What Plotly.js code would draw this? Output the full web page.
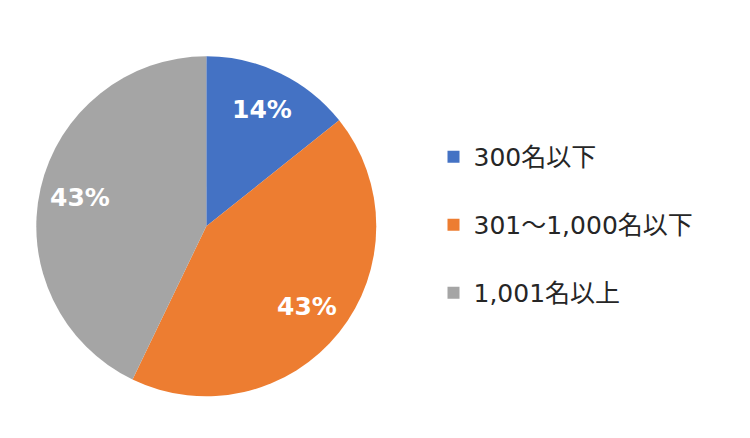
<!DOCTYPE html>
<html>
<head>
<meta charset="utf-8">
<script src="https://cdn.plot.ly/plotly-3.0.1.min.js"></script>
<style>html,body{margin:0;padding:0;background:#fff}</style>
</head>
<body>
<div id="chart" style="width:750px;height:438px"></div>
<script>
// company size breakdown
var categories = ["300名以下", "301～1,000名以下", "1,001名以上"];
var counts = [1, 3, 3];
var sliceColors = ["#4472C4", "#ED7D31", "#A5A5A5"];

var W = 750, H = 438;
var pieDomain = {x: [0.0484, 0.5017], y: [0.0952, 0.8715]};

// extra blank line so legend entries sit further apart
var legendLabels = categories.map(function(c){ return c + "<br> "; });

var trace = {
  type: "pie",
  labels: legendLabels,
  values: counts,
  sort: false,
  direction: "clockwise",
  rotation: 0,
  marker: {colors: sliceColors, line: {width: 0}},
  textinfo: "none",
  hoverinfo: "label+percent",
  domain: pieDomain
};

// percent labels placed like excel does: on the slice mid-angle, ~3/4 out
var total = counts.reduce(function(a, b){ return a + b; }, 0);
var cx = (pieDomain.x[0] + pieDomain.x[1]) / 2;
var cy = (pieDomain.y[0] + pieDomain.y[1]) / 2;
var radPx = Math.min((pieDomain.x[1] - pieDomain.x[0]) * W, (pieDomain.y[1] - pieDomain.y[0]) * H) / 2;
var annots = [], cum = 0;
for (var i = 0; i < counts.length; i++) {
  var mid = (cum + counts[i] / 2) / total * 2 * Math.PI;
  cum += counts[i];
  var r = radPx * 0.76;
  annots.push({
    xref: "paper", yref: "paper",
    x: cx + r * Math.sin(mid) / W,
    y: cy + r * Math.cos(mid) / H,
    text: Math.round(counts[i] / total * 100) + "%",
    showarrow: false,
    xanchor: "center", yanchor: "middle",
    font: {family: "DejaVu Sans", size: 25, color: "#ffffff", weight: "bold"}
  });
}

var layout = {
  width: W, height: H,
  margin: {l: 0, r: 0, t: 0, b: 0},
  paper_bgcolor: "#ffffff",
  showlegend: true,
  annotations: annots,
  legend: {
    x: 0.578, xanchor: "left",
    y: 0.45, yanchor: "middle",
    valign: "top",
    font: {family: "DejaVu Sans, Noto Sans CJK JP", size: 25, color: "#262626"},
    bgcolor: "rgba(0,0,0,0)"
  }
};

Plotly.newPlot("chart", [trace], layout, {displayModeBar: false, staticPlot: true});
</script>
</body>
</html>
